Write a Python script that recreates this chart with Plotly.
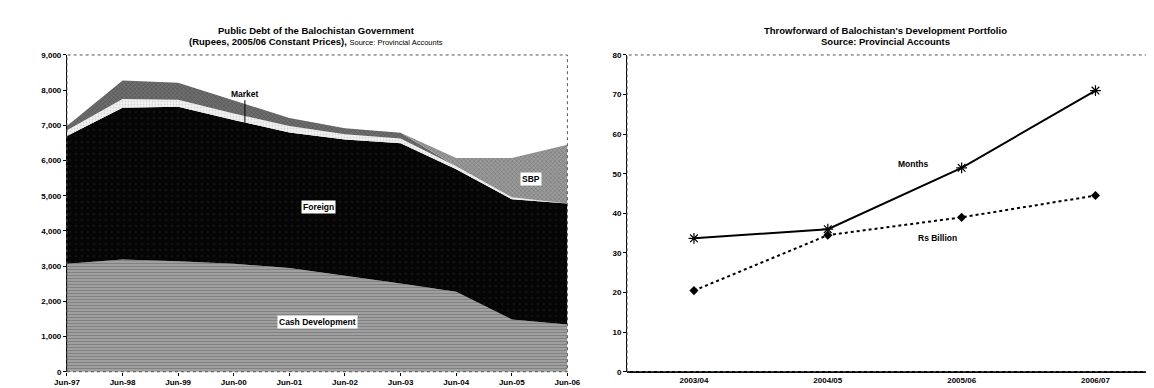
import plotly.graph_objects as go

# left chart: public debt, stacked areas (Rs million, 2005/06 prices)
months = ["Jun-97", "Jun-98", "Jun-99", "Jun-00", "Jun-01",
          "Jun-02", "Jun-03", "Jun-04", "Jun-05", "Jun-06"]
cash_dev = [3070, 3190, 3140, 3070, 2950, 2740, 2510, 2275, 1485, 1345]
foreign = [3630, 4310, 4390, 4080, 3850, 3860, 3980, 3475, 3415, 3435]
other = [160, 250, 200, 190, 180, 150, 140, 90, 60, 0]
market = [125, 526, 480, 370, 230, 170, 160, 0, 0, 0]
sbp = [0, 0, 0, 0, 0, 0, 0, 235, 1115, 1670]
debt_ticks = [0, 1000, 2000, 3000, 4000, 5000, 6000, 7000, 8000, 9000]

# right chart: throwforward
years = ["2003/04", "2004/05", "2005/06", "2006/07"]
tf_months = [33.7, 36.0, 51.5, 71.0]
tf_rs_bn = [20.5, 34.5, 39.0, 44.5]

W, H = 1154, 388
FONT = "Liberation Sans"
idx = list(range(len(months)))

fig = go.Figure()


def area(y, name, fg, bg, shape, size=3, solidity=0.4):
    return go.Scatter(
        x=idx, y=y, name=name, mode="lines", stackgroup="debt",
        line=dict(width=0, color=bg), fillcolor=bg,
        fillpattern=dict(shape=shape, fgcolor=fg, bgcolor=bg,
                         size=size, solidity=solidity),
        xaxis="x", yaxis="y", hoverinfo="x+y+name",
    )


fig.add_trace(area(cash_dev, "Cash Development", "#5a5a5a", "#a6a6a6", "-", 3, 0.45))
fig.add_trace(area(foreign, "Foreign", "#1e1e1e", "#050505", ".", 6, 0.15))
fig.add_trace(area(other, "Other", "#bdbdbd", "#f2f2f2", ".", 3, 0.3))
fig.add_trace(area(market, "Market", "#2a2a2a", "#6e6e6e", "x", 3, 0.3))
fig.add_trace(area(sbp, "SBP", "#4a4a4a", "#9a9a9a", "x", 3, 0.3))

fig.add_trace(go.Scatter(
    x=years, y=tf_months, name="Months", mode="lines+markers",
    line=dict(color="black", width=2),
    marker=dict(symbol="asterisk-open", size=9, color="black",
                line=dict(width=1.2, color="black")),
    xaxis="x2", yaxis="y2",
))
fig.add_trace(go.Scatter(
    x=years, y=tf_rs_bn, name="Rs Billion", mode="lines+markers",
    line=dict(color="black", width=2, dash="dot"),
    marker=dict(symbol="diamond", size=7, color="black"),
    xaxis="x2", yaxis="y2",
))

tick_font = dict(family=FONT, size=8, color="black", weight="bold")
y_dom = [1 - 368.3 / H, 1 - 44 / H]
x1_dom = [47 / W, 559 / W]
x2_dom = [620 / W, 1.0]

fig.update_layout(
    width=W, height=H,
    margin=dict(l=0, r=0, t=0, b=0),
    paper_bgcolor="white", plot_bgcolor="white",
    showlegend=False,
    font=dict(family=FONT, size=8, color="black"),
    xaxis=dict(domain=x1_dom, range=[0, len(months) - 1],
               tickvals=idx, ticktext=months, tickfont=tick_font,
               showgrid=False, zeroline=False, showline=False,
               ticks="outside", ticklen=3, tickcolor="black"),
    yaxis=dict(domain=y_dom, range=[0, 9000], tickvals=debt_ticks,
               tickformat=",", tickfont=tick_font,
               showgrid=False, zeroline=False,
               showline=True, linecolor="black", linewidth=1,
               ticks="outside", ticklen=3, tickcolor="black"),
    xaxis2=dict(domain=x2_dom, range=[-0.5, 3.4], anchor="y2",
                tickfont=tick_font, showgrid=False, zeroline=False,
                showline=False, ticks="", ticklabelstandoff=2),
    yaxis2=dict(domain=y_dom, range=[0, 80], dtick=10, anchor="x2",
                tickfont=tick_font, showgrid=False, zeroline=True,
                zerolinecolor="black", zerolinewidth=1.5,
                showline=True, linecolor="black", linewidth=1,
                ticks="outside", ticklen=3, tickcolor="black"),
)

# dotted plot-area borders
for xd in (x1_dom, x2_dom):
    fig.add_shape(type="rect", xref="paper", yref="paper",
                  x0=xd[0], x1=xd[1], y0=y_dom[0], y1=y_dom[1],
                  line=dict(color="#555555", width=1, dash="dot"), layer="above")

# category separators on right chart x axis
for k in (0.5, 1.5, 2.5):
    fig.add_shape(type="line", xref="x2", yref="y2", x0=k, x1=k, y0=0, y1=-1.2,
                  line=dict(color="black", width=1))

title_font = dict(family=FONT, size=9.5, color="black", weight="bold")
titles = [
    (302, 19, "Public Debt of the Balochistan Government"),
    (302, 30, "(Rupees, 2005/06 Constant Prices), "
              "<span style='font-size:7.5px;font-weight:normal'>"
              "Source: Provincial Accounts</span>"),
    (884, 19, "Throwforward of Balochistan's Development Portfolio"),
    (884, 30, "Source: Provincial Accounts"),
]
for px, py, t in titles:
    fig.add_annotation(xref="paper", yref="paper", x=px / W, y=1 - py / H,
                       xanchor="center", yanchor="middle", text=t,
                       showarrow=False, font=title_font)

label_font = dict(family=FONT, size=8.5, color="black", weight="bold")
for x, y, t in [(4.52, 4690, "Foreign"), (4.5, 1400, "Cash Development"),
                (8.35, 5470, "SBP")]:
    fig.add_annotation(x=x, y=y, xref="x", yref="y", text=t, showarrow=False,
                       font=label_font, bgcolor="white", borderpad=1)
fig.add_annotation(x=3.2, y=7050, xref="x", yref="y", text="Market",
                   showarrow=True, arrowhead=0, arrowwidth=1, arrowcolor="black",
                   ax=0, ay=-30, font=label_font)

fig.add_annotation(x=1.64, y=52.5, xref="x2", yref="y2", text="Months",
                   showarrow=False, font=label_font)
fig.add_annotation(x=1.82, y=33.9, xref="x2", yref="y2", text="Rs Billion",
                   showarrow=False, font=label_font)

fig.write_html("out.html")
